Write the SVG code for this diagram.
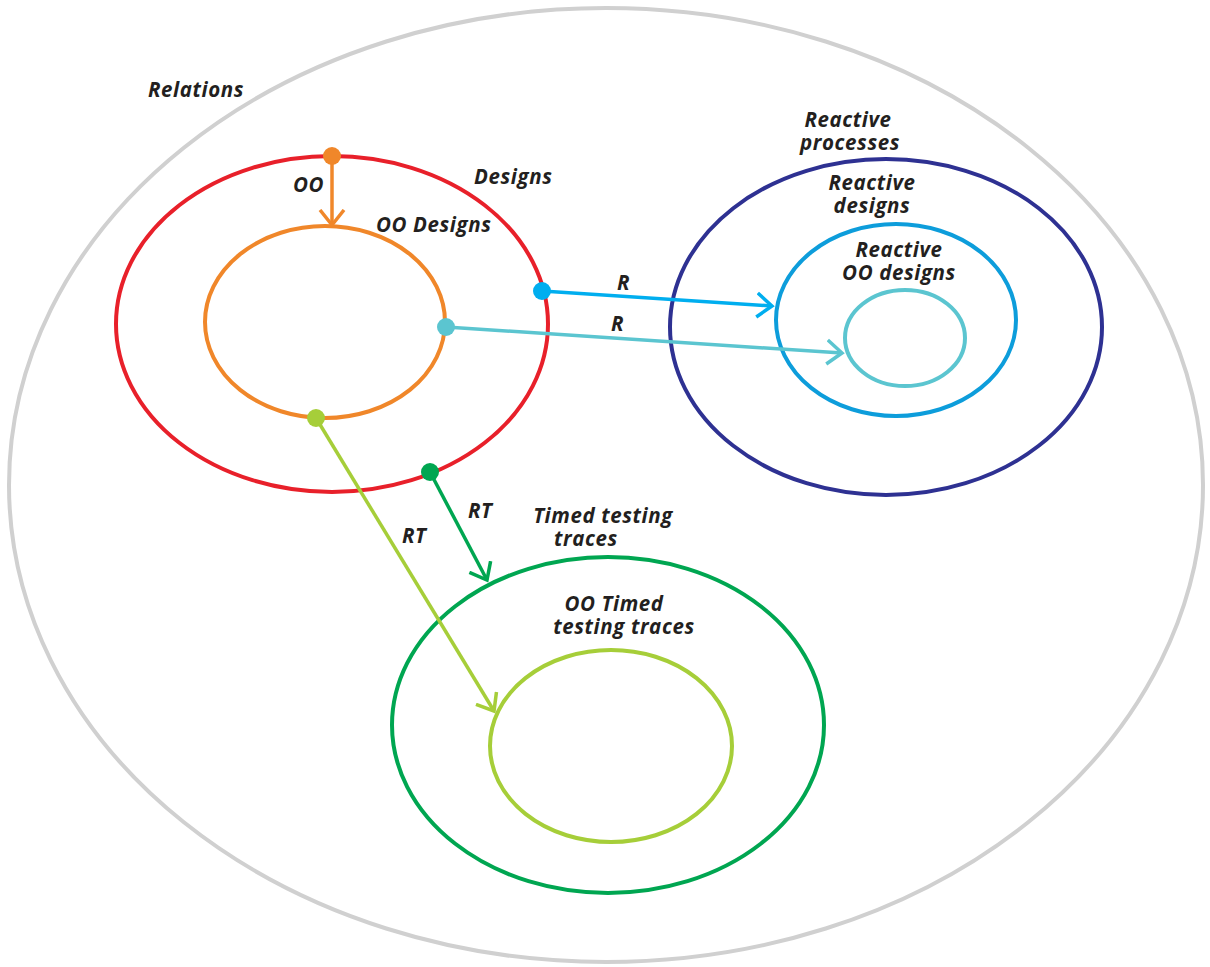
<svg xmlns="http://www.w3.org/2000/svg" width="1210" height="967" viewBox="0 0 1210 967">
<style>
text{font-family:"Open Sans","Noto Sans","Liberation Sans",sans-serif;font-style:italic;font-weight:bold;font-size:20.5px;letter-spacing:0.6px;fill:#231f20}
.c{text-anchor:middle}
ellipse{fill:none;stroke-width:4}
.e{stroke-width:3.5;fill:none}
</style>
<defs>
<marker id="mo" markerUnits="userSpaceOnUse" markerWidth="30" markerHeight="30" refX="16" refY="13" orient="auto" viewBox="0 0 30 26"><path d="M1,1 L16,13 L1,25" fill="none" stroke="#f0872a" stroke-width="3.5"/></marker>
<marker id="mb" markerUnits="userSpaceOnUse" markerWidth="30" markerHeight="30" refX="16" refY="13" orient="auto" viewBox="0 0 30 26"><path d="M1,1 L16,13 L1,25" fill="none" stroke="#00aeef" stroke-width="3.5"/></marker>
<marker id="mt" markerUnits="userSpaceOnUse" markerWidth="30" markerHeight="30" refX="16" refY="13" orient="auto" viewBox="0 0 30 26"><path d="M1,1 L16,13 L1,25" fill="none" stroke="#5bc5d0" stroke-width="3.5"/></marker>
<marker id="mg" markerUnits="userSpaceOnUse" markerWidth="30" markerHeight="30" refX="16" refY="13" orient="auto" viewBox="0 0 30 26"><path d="M1,1 L16,13 L1,25" fill="none" stroke="#00a651" stroke-width="3.5"/></marker>
<marker id="ml" markerUnits="userSpaceOnUse" markerWidth="30" markerHeight="30" refX="16" refY="13" orient="auto" viewBox="0 0 30 26"><path d="M1,1 L16,13 L1,25" fill="none" stroke="#a6ce39" stroke-width="3.5"/></marker>
</defs>
<g id="relations"><ellipse cx="606" cy="485" rx="597" ry="477" stroke="#d0d0d0"/><text x="148" y="97">Relations</text></g>
<g id="designs"><ellipse cx="332" cy="324" rx="216" ry="168" stroke="#e8202a"/><text x="474" y="184">Designs</text></g>
<g id="oo-designs"><ellipse cx="325" cy="322" rx="120" ry="96" stroke="#f0872a"/><text x="376" y="232">OO Designs</text></g>
<g id="reactive-processes"><ellipse cx="886" cy="327" rx="216" ry="168" stroke="#2e3192"/><text class="c" x="848" y="127">Reactive</text><text class="c" x="850" y="150">processes</text></g>
<g id="reactive-designs"><ellipse cx="896" cy="320" rx="120" ry="96" stroke="#0d9ddb"/><text class="c" x="872" y="190">Reactive</text><text class="c" x="872" y="213">designs</text></g>
<g id="reactive-oo-designs"><ellipse cx="905" cy="338" rx="60" ry="48" stroke="#5bc5d0"/><text class="c" x="899" y="257">Reactive</text><text class="c" x="899" y="280">OO designs</text></g>
<g id="timed-testing-traces"><ellipse cx="608" cy="725" rx="216" ry="168" stroke="#00a651"/><text class="c" x="603" y="523">Timed testing</text><text class="c" x="586" y="546">traces</text></g>
<g id="oo-timed-testing-traces"><ellipse cx="611" cy="746" rx="121" ry="96" stroke="#a6ce39"/><text class="c" x="614" y="611">OO Timed</text><text class="c" x="624" y="634">testing traces</text></g>
<g id="connectors">
<path class="e" d="M332,156 L332,225" stroke="#f0872a" marker-end="url(#mo)"/><circle cx="332" cy="156" r="9" fill="#f0872a"/><text x="293" y="192">OO</text>
<path class="e" d="M542,291 L772,306" stroke="#00aeef" marker-end="url(#mb)"/><circle cx="542" cy="291" r="9" fill="#00aeef"/><text x="617" y="290">R</text>
<path class="e" d="M446,327 L842,353" stroke="#5bc5d0" marker-end="url(#mt)"/><circle cx="446" cy="327" r="9" fill="#5bc5d0"/><text x="611" y="331">R</text>
<path class="e" d="M316,418 L494,711" stroke="#a6ce39" marker-end="url(#ml)"/><circle cx="316" cy="418" r="9" fill="#a6ce39"/><text x="402" y="543">RT</text>
<path class="e" d="M430,472 L487,580" stroke="#00a651" marker-end="url(#mg)"/><circle cx="430" cy="472" r="9" fill="#00a651"/><text x="468" y="518">RT</text>
</g>
</svg>
